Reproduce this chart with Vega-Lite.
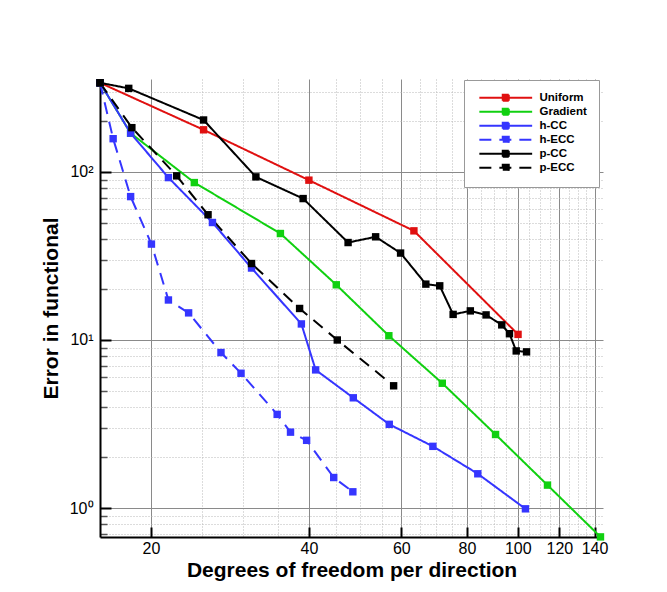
{
  "$schema": "https://vega.github.io/schema/vega-lite/v6.json",
  "width": 503,
  "height": 458,
  "autosize": "none",
  "padding": {"left": 100, "top": 79, "right": 64, "bottom": 55},
  "background": "white",
  "config": {
    "view": {"stroke": null},
    "font": "Liberation Sans",
    "legend": {
      "title": null, "orient": "none", "legendX": 364, "legendY": 1,
      "fillColor": "white", "strokeColor": "#999", "padding": 12,
      "labelFont": "Liberation Sans", "labelFontSize": 11.5, "labelFontWeight": "bold", "labelColor": "black",
      "symbolType": "M-6.6,0H6.6M-0.75,-0.75H0.75V0.75H-0.75Z",
      "symbolSize": 64, "symbolStrokeWidth": 2, "symbolOffset": 24, "labelOffset": 28, "rowPadding": -1
    }
  },
  "datasets": {
    "series": [
      {"method": "Uniform", "dof": 16, "error": 339},
      {"method": "Uniform", "dof": 25.2, "error": 178},
      {"method": "Uniform", "dof": 40, "error": 89.3},
      {"method": "Uniform", "dof": 63.4, "error": 44.6},
      {"method": "Uniform", "dof": 100.1, "error": 10.8},
      {"method": "Gradient", "dof": 16, "error": 339},
      {"method": "Gradient", "dof": 18.3, "error": 170},
      {"method": "Gradient", "dof": 24.2, "error": 86.4},
      {"method": "Gradient", "dof": 35.3, "error": 43.0},
      {"method": "Gradient", "dof": 45.1, "error": 21.3},
      {"method": "Gradient", "dof": 56.8, "error": 10.6},
      {"method": "Gradient", "dof": 71.8, "error": 5.53},
      {"method": "Gradient", "dof": 90.7, "error": 2.74},
      {"method": "Gradient", "dof": 113.9, "error": 1.37},
      {"method": "Gradient", "dof": 143.7, "error": 0.674},
      {"method": "h-CC", "dof": 16, "error": 339},
      {"method": "h-CC", "dof": 18.3, "error": 170},
      {"method": "h-CC", "dof": 21.6, "error": 92.5},
      {"method": "h-CC", "dof": 26.2, "error": 50.0},
      {"method": "h-CC", "dof": 31.1, "error": 26.8},
      {"method": "h-CC", "dof": 38.7, "error": 12.46},
      {"method": "h-CC", "dof": 41.2, "error": 6.64},
      {"method": "h-CC", "dof": 48.6, "error": 4.53},
      {"method": "h-CC", "dof": 56.9, "error": 3.15},
      {"method": "h-CC", "dof": 68.9, "error": 2.33},
      {"method": "h-CC", "dof": 83.9, "error": 1.60},
      {"method": "h-CC", "dof": 103.4, "error": 0.99},
      {"method": "h-ECC", "dof": 16, "error": 339},
      {"method": "h-ECC", "dof": 16.95, "error": 157.6},
      {"method": "h-ECC", "dof": 18.3, "error": 71.3},
      {"method": "h-ECC", "dof": 20.05, "error": 37.2},
      {"method": "h-ECC", "dof": 21.6, "error": 17.3},
      {"method": "h-ECC", "dof": 23.6, "error": 14.5},
      {"method": "h-ECC", "dof": 27.2, "error": 8.42},
      {"method": "h-ECC", "dof": 29.7, "error": 6.34},
      {"method": "h-ECC", "dof": 34.8, "error": 3.61},
      {"method": "h-ECC", "dof": 36.9, "error": 2.83},
      {"method": "h-ECC", "dof": 39.6, "error": 2.53},
      {"method": "h-ECC", "dof": 44.6, "error": 1.52},
      {"method": "h-ECC", "dof": 48.5, "error": 1.25},
      {"method": "p-CC", "dof": 16, "error": 339},
      {"method": "p-CC", "dof": 18.15, "error": 314},
      {"method": "p-CC", "dof": 25.2, "error": 203.6},
      {"method": "p-CC", "dof": 31.7, "error": 93.4},
      {"method": "p-CC", "dof": 39.0, "error": 69.4},
      {"method": "p-CC", "dof": 47.5, "error": 38.0},
      {"method": "p-CC", "dof": 53.6, "error": 41.1},
      {"method": "p-CC", "dof": 59.8, "error": 32.9},
      {"method": "p-CC", "dof": 66.8, "error": 21.5},
      {"method": "p-CC", "dof": 71.0, "error": 21.0},
      {"method": "p-CC", "dof": 75.3, "error": 14.2},
      {"method": "p-CC", "dof": 81.2, "error": 14.9},
      {"method": "p-CC", "dof": 87.0, "error": 14.1},
      {"method": "p-CC", "dof": 93.2, "error": 12.3},
      {"method": "p-CC", "dof": 96.4, "error": 10.9},
      {"method": "p-CC", "dof": 99.3, "error": 8.61},
      {"method": "p-CC", "dof": 103.9, "error": 8.50},
      {"method": "p-ECC", "dof": 16, "error": 339},
      {"method": "p-ECC", "dof": 18.4, "error": 183.3},
      {"method": "p-ECC", "dof": 22.4, "error": 94.7},
      {"method": "p-ECC", "dof": 25.7, "error": 55.6},
      {"method": "p-ECC", "dof": 31.1, "error": 28.5},
      {"method": "p-ECC", "dof": 38.4, "error": 15.4},
      {"method": "p-ECC", "dof": 45.3, "error": 10.0},
      {"method": "p-ECC", "dof": 58.0, "error": 5.34}
    ]
  },
  "data": {"name": "series"},
  "resolve": {"axis": {"x": "independent", "y": "independent"}},
  "layer": [
    {
      "mark": {"type": "line", "strokeWidth": 2},
      "encoding": {
        "x": {
          "field": "dof", "type": "quantitative",
          "scale": {"type": "log", "domain": [16, 145.3], "nice": false, "zero": false},
          "axis": {
            "orient": "bottom", "title": null,
            "values": [25, 30, 35, 45, 50, 55, 65, 70, 75, 85, 90, 95, 105, 110, 115, 125, 130, 135],
            "labels": false, "ticks": false, "domain": false,
            "grid": true, "gridColor": "#b8b8b8", "gridDash": [1, 2], "gridWidth": 1
          }
        },
        "y": {
          "field": "error", "type": "quantitative",
          "scale": {"type": "log", "domain": [0.673, 357], "nice": false, "zero": false},
          "axis": {
            "orient": "left", "title": null,
            "values": [0.7, 0.8, 0.9, 2, 3, 4, 5, 6, 7, 8, 9, 20, 30, 40, 50, 60, 70, 80, 90, 200, 300],
            "labels": false, "ticks": true, "tickSize": -7, "tickColor": "#555", "tickWidth": 1.5,
            "domain": false,
            "grid": true, "gridColor": "#b8b8b8", "gridDash": [1, 2], "gridWidth": 1
          }
        },
        "color": {
          "field": "method", "type": "nominal",
          "scale": {
            "domain": ["Uniform", "Gradient", "h-CC", "h-ECC", "p-CC", "p-ECC"],
            "range": ["#e01010", "#10d010", "#3535ff", "#3535ff", "#000000", "#000000"]
          },
          "legend": {
            "encode": {"symbols": {"update": {"fill": {"scale": "color", "field": "value"}, "opacity": {"value": 1}}}}
          }
        },
        "strokeDash": {
          "field": "method", "type": "nominal",
          "scale": {
            "domain": ["Uniform", "Gradient", "h-CC", "h-ECC", "p-CC", "p-ECC"],
            "range": [[1, 0], [1, 0], [1, 0], [12, 8], [1, 0], [12, 8]]
          },
          "legend": {
            "encode": {"symbols": {"update": {"fill": {"scale": "color", "field": "value"}, "opacity": {"value": 1}}}}
          }
        }
      }
    },
    {
      "mark": {"type": "point", "shape": "square", "filled": true, "size": 55, "opacity": 1},
      "encoding": {
        "x": {
          "field": "dof", "type": "quantitative",
          "axis": {
            "orient": "bottom",
            "values": [20, 40, 60, 80, 100, 120, 140], "format": "d",
            "grid": true, "gridColor": "#8a8a8a", "gridWidth": 1,
            "domain": true, "domainColor": "black", "domainWidth": 2,
            "ticks": true, "tickColor": "black", "tickWidth": 2, "tickSize": -10,
            "labelFont": "Liberation Sans", "labelFontSize": 16, "labelColor": "black", "labelPadding": 13,
            "title": "Degrees of freedom per direction",
            "titleFont": "Liberation Sans", "titleFontSize": 21, "titleFontWeight": "bold", "titleColor": "black",
            "titlePadding": 3
          }
        },
        "y": {
          "field": "error", "type": "quantitative",
          "axis": {
            "orient": "left",
            "values": [1, 10, 100],
            "labelExpr": "datum.value < 5 ? '10⁰' : datum.value < 50 ? '10¹' : '10²'",
            "grid": true, "gridColor": "#8a8a8a", "gridWidth": 1,
            "domain": true, "domainColor": "black", "domainWidth": 2,
            "ticks": true, "tickColor": "black", "tickWidth": 2, "tickSize": -11,
            "labelFont": "Liberation Sans", "labelFontSize": 16, "labelColor": "black", "labelPadding": 18,
            "title": "Error in functional",
            "titleFont": "Liberation Sans", "titleFontSize": 21, "titleFontWeight": "bold", "titleColor": "black",
            "titlePadding": 8
          }
        },
        "color": {
          "field": "method", "type": "nominal",
          "legend": {
            "encode": {"symbols": {"update": {"fill": {"scale": "color", "field": "value"}, "opacity": {"value": 1}}}}
          }
        }
      }
    }
  ]
}
